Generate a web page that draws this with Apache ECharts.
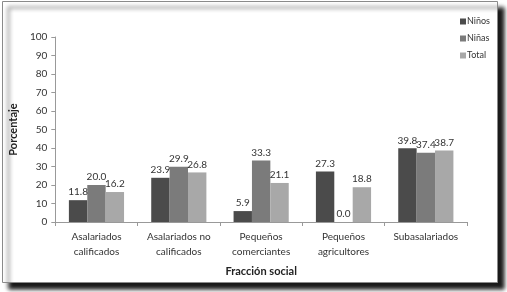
<!DOCTYPE html>
<html><head><meta charset="utf-8">
<script src="https://cdn.jsdelivr.net/npm/echarts@6/dist/echarts.min.js"></script>
<style>html,body{margin:0;padding:0;background:#fff}#c{width:507px;height:292px}</style>
</head><body><div id="c"></div>
<script>
var categories = ["Asalariados\ncalificados", "Asalariados no\ncalificados", "Pequeños\ncomerciantes", "Pequeños\nagricultores", "Subasalariados"];
var ninos = [11.8, 23.9, 5.9, 27.3, 39.8];
var ninas = [20.0, 29.9, 33.3, 0.0, 37.4];
var total = [16.2, 26.8, 21.1, 18.8, 38.7];
var seriesNames = ["Niños", "Niñas", "Total"];
var colors = ["#4b4b4b", "#7b7b7b", "#a8a8a8"];

var chart = echarts.init(document.getElementById('c'), null, {renderer: 'canvas'});
var font = 'Lato, "Open Sans", sans-serif';
function mk(name, data, color) {
  return {
    name: name, type: 'bar', data: data, barGap: '0%', barCategoryGap: '33%',
    itemStyle: {color: color},
    label: {show: true, position: 'top', distance: 3, color: '#333', fontSize: 10, fontFamily: font,
      formatter: function (p) { return p.value.toFixed(1); }}
  };
}
chart.setOption({
  animation: false,
  color: colors,
  graphic: [{
    type: 'rect', z: -10, zlevel: 0, silent: true,
    shape: {x: 2.5, y: 1.5, width: 495, height: 281},
    style: {fill: '#fff', stroke: '#8a8a8a', lineWidth: 1,
      shadowColor: 'rgba(0,0,0,0.9)', shadowBlur: 4, shadowOffsetX: 6, shadowOffsetY: 6}
  }],
  legend: {
    orient: 'vertical', left: 455, top: 12, itemWidth: 6, itemHeight: 6, itemGap: 8,
    icon: 'rect', textStyle: {fontSize: 9, color: '#333', fontFamily: font, padding: [0, 0, 0, -4]},
    data: seriesNames
  },
  grid: {left: 52, right: 40, top: 37, bottom: 70, containLabel: false},
  xAxis: {
    type: 'category', data: categories,
    name: 'Fracción social', nameLocation: 'middle', nameGap: 44,
    nameTextStyle: {fontSize: 11, fontWeight: 'bold', color: '#222', fontFamily: font},
    axisLine: {lineStyle: {color: '#999'}},
    axisTick: {show: true, length: 4, lineStyle: {color: '#999'}},
    axisLabel: {fontSize: 10, color: '#333', lineHeight: 15, margin: 7, fontFamily: font, interval: 0}
  },
  yAxis: {
    type: 'value', min: 0, max: 100, interval: 10,
    name: 'Porcentaje', nameLocation: 'middle', nameGap: 27,
    nameTextStyle: {fontSize: 11, fontWeight: 'bold', color: '#222', fontFamily: font},
    axisLine: {show: true, lineStyle: {color: '#999'}},
    axisTick: {show: true, length: 4, lineStyle: {color: '#999'}},
    splitLine: {show: false},
    axisLabel: {fontSize: 10, color: '#333', margin: 8, fontFamily: font}
  },
  series: [mk(seriesNames[0], ninos, colors[0]), mk(seriesNames[1], ninas, colors[1]), mk(seriesNames[2], total, colors[2])]
});
</script></body></html>
